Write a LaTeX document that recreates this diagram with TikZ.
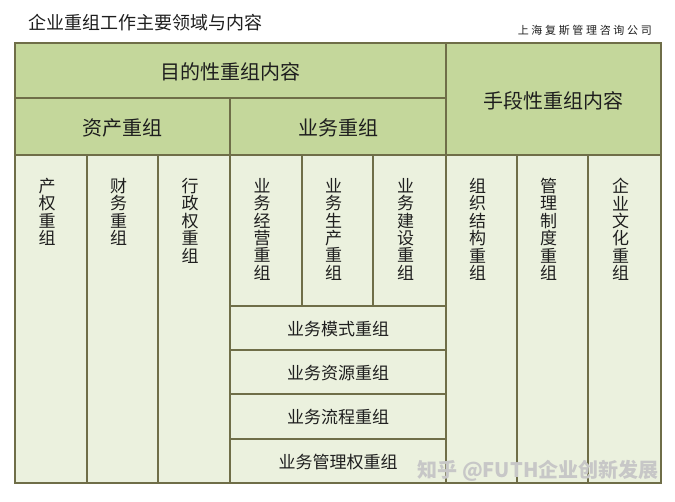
\documentclass[tikz,border=0pt]{standalone}
\usepackage{fontspec}
\setmainfont{Noto Sans CJK SC}
\usetikzlibrary{positioning}
\definecolor{headgreen}{HTML}{C4D79B}
\definecolor{bodygreen}{HTML}{EBF1DE}
\definecolor{gridline}{HTML}{6F6E48}
\definecolor{inkgray}{HTML}{1E1E1E}
\tikzset{%
    hcell/.style={fill=headgreen,draw=gridline,line width=1.6pt},
    bcell/.style={fill=bodygreen,draw=gridline,line width=1.6pt},
    htext/.style={font=\fontsize{20}{24}\selectfont,text=inkgray,inner sep=0pt},
    btext/.style={font=\fontsize{17}{20}\selectfont,text=inkgray,inner sep=0pt},
    vtext/.style={font=\fontsize{17}{17.4}\selectfont,text=inkgray,align=center,anchor=north,inner sep=0pt}
}

\begin{document}
\begin{tikzpicture}[x=1pt,y=-1pt]
    \useasboundingbox (0,0) rectangle (675,501);

    \node[anchor=west,inner sep=0pt,text=inkgray,font=\fontsize{18}{20}\selectfont] (title) at (28,23) {企业重组工作主要领域与内容};
    \node[anchor=east,inner sep=0pt,text=inkgray,font=\fontsize{11}{12}\selectfont] (firm) at (652,30)
        {\makebox[134pt][s]{上\hfil 海\hfil 复\hfil 斯\hfil 管\hfil 理\hfil 咨\hfil 询\hfil 公\hfil 司}};

    % header rows
    \draw[hcell] (15,43) rectangle (446,98);
    \node[htext] (goal) at (230.5,72) {目的性重组内容};
    \draw[hcell] (446,43) rectangle (661,155);
    \node[htext] (means) at (553.5,101) {手段性重组内容};
    \draw[hcell] (15,98) rectangle (230,155);
    \node[htext] (asset) at (122.5,128) {资产重组};
    \draw[hcell] (230,98) rectangle (446,155);
    \node[htext] (biz) at (338,128) {业务重组};

    % body columns
    \draw[bcell] (15,155) rectangle (87,483);
    \node[vtext] (equity) at (47,178) {产\\权\\重\\组};
    \draw[bcell] (87,155) rectangle (158,483);
    \node[vtext] (finance) at (118.5,178) {财\\务\\重\\组};
    \draw[bcell] (158,155) rectangle (230,483);
    \node[vtext] (admin) at (190,178) {行\\政\\权\\重\\组};
    \draw[bcell] (230,155) rectangle (302,306);
    \node[vtext] (operate) at (262,178) {业\\务\\经\\营\\重\\组};
    \draw[bcell] (302,155) rectangle (373,306);
    \node[vtext] (produce) at (333.5,178) {业\\务\\生\\产\\重\\组};
    \draw[bcell] (373,155) rectangle (446,306);
    \node[vtext] (build) at (405.5,178) {业\\务\\建\\设\\重\\组};
    \draw[bcell] (446,155) rectangle (517,483);
    \node[vtext] (struct) at (477.5,178) {组\\织\\结\\构\\重\\组};
    \draw[bcell] (517,155) rectangle (588,483);
    \node[vtext] (rules) at (548.5,178) {管\\理\\制\\度\\重\\组};
    \draw[bcell] (588,155) rectangle (661,483);
    \node[vtext] (culture) at (620.5,178) {企\\业\\文\\化\\重\\组};

    % business rows
    \draw[bcell] (230,306) rectangle (446,350);
    \node[btext] (model) at (338,329) {业务模式重组};
    \draw[bcell] (230,350) rectangle (446,394);
    \node[btext] (resource) at (338,373) {业务资源重组};
    \draw[bcell] (230,394) rectangle (446,439);
    \node[btext] (process) at (338,417) {业务流程重组};
    \draw[bcell] (230,439) rectangle (446,483);
    \node[btext] (control) at (338,462) {业务管理权重组};

    \draw[gridline,line width=2.6pt] (15,43) rectangle (661,483);

    \node[inner sep=0pt,text=white!78!black,font=\bfseries\fontsize{20}{22}\selectfont] (mark) at (538,471) {知乎 @FUTH企业创新发展};
\end{tikzpicture}
\end{document}
